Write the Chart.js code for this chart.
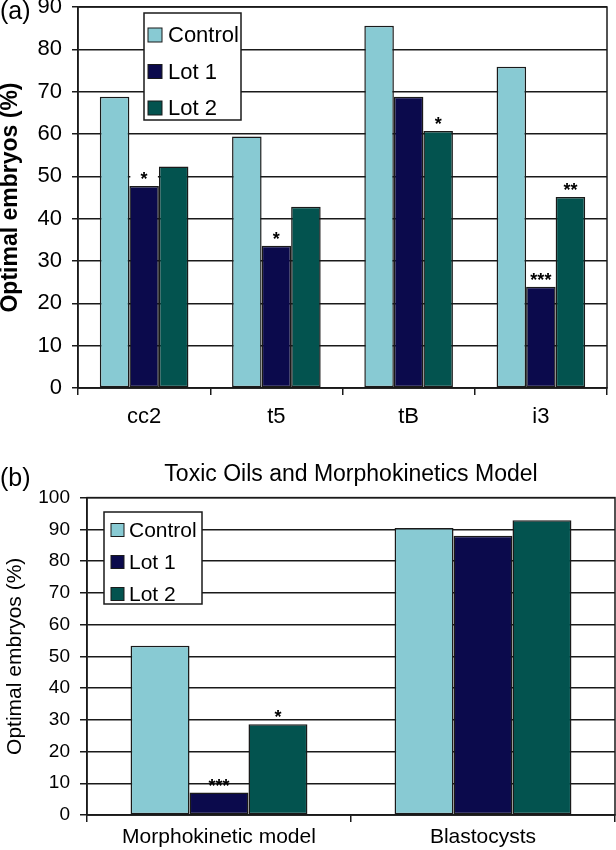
<!DOCTYPE html>
<html>
<head>
<meta charset="utf-8">
<script src="https://cdn.jsdelivr.net/npm/chart.js@4/dist/chart.umd.min.js"></script>
<style>
  html, body { margin: 0; padding: 0; background: #fff; }
  #wrap { position: relative; width: 616px; height: 850px; }
  .box { position: absolute; left: 0; width: 616px; }
  .tag { position: absolute; left: 0; font: 25px "Liberation Sans", Arial, sans-serif; line-height: 25px; color: #000; }
</style>
</head>
<body>
<div id="wrap">
  <div class="box" style="top:0;height:440px"><canvas id="chartA"></canvas></div>
  <div class="box" style="top:440px;height:410px"><canvas id="chartB"></canvas></div>
  <div class="tag" style="top:-2px">(a)</div>
  <div class="tag" style="top:465px">(b)</div>
</div>
<script>
// data
var seriesNames = ["Control", "Lot 1", "Lot 2"];
var seriesColors = ["#88cad3", "#0b0a4c", "#03534f"];

var categoriesA = ["cc2", "t5", "tB", "i3"];
var controlA = [68.8, 59.4, 85.6, 75.9];
var lot1A = [47.7, 33.6, 68.8, 23.9];
var lot2A = [52.3, 42.8, 60.7, 45.1];
var lot1MarksA = ["*", "*", "", "***"];
var lot2MarksA = ["", "", "*", "**"];
var maxA = 90;

var categoriesB = ["Morphokinetic model", "Blastocysts"];
var controlB = [53.3, 90.4];
var lot1B = [7.1, 88.0];
var lot2B = [28.6, 92.9];
var lot1MarksB = ["***", ""];
var lot2MarksB = ["*", ""];
var maxB = 100;

var titleB = "Toxic Oils and Morphokinetics Model";
var yTitle = "Optimal embryos (%)";

var REG = "'Liberation Sans', Arial, sans-serif";
var LINE = "#1a1a1a";

Chart.defaults.color = "#000";

// frame round the plot area (right and top edges like the original)
var framePlugin = {
  id: "frame",
  afterDraw: function (chart) {
    var a = chart.chartArea, ctx = chart.ctx;
    ctx.save();
    ctx.strokeStyle = LINE;
    ctx.lineWidth = 1.5;
    ctx.strokeRect(a.left, a.top, a.right - a.left, a.bottom - a.top);
    ctx.restore();
  }
};

// significance stars above the bars
var starsPlugin = {
  id: "stars",
  afterDatasetsDraw: function (chart, args, o) {
    var ctx = chart.ctx;
    ctx.save();
    ctx.font = "bold " + o.size + "px " + REG;
    ctx.textAlign = "center";
    ctx.textBaseline = "alphabetic";
    o.marks.forEach(function (marks, di) {
      if (!marks) return;
      var meta = chart.getDatasetMeta(di);
      marks.forEach(function (m, j) {
        if (!m) return;
        var bar = meta.data[j];
        var cy = bar.y - o.gap;
        if (o.whiteBox) {
          ctx.fillStyle = "#fff";
          ctx.fillRect(bar.x - bar.width / 2 + 1, bar.y - 18, bar.width - 2, 17);
        }
        ctx.fillStyle = "#000";
        ctx.fillText(m, bar.x, cy + o.size * 0.57);
      });
    });
    ctx.restore();
  }
};

// boxed vertical legend inside the plot
var boxLegend = {
  id: "boxLegend",
  afterDatasetsDraw: function (chart, args, o) {
    var ctx = chart.ctx;
    ctx.save();
    ctx.fillStyle = "#fff";
    ctx.fillRect(o.x, o.y, o.w, o.h);
    ctx.strokeStyle = LINE;
    ctx.lineWidth = 1.5;
    ctx.strokeRect(o.x, o.y, o.w, o.h);
    ctx.font = o.font;
    ctx.textAlign = "left";
    ctx.textBaseline = "middle";
    chart.data.datasets.forEach(function (ds, i) {
      var cy = o.y + o.firstRow + i * o.rowGap;
      ctx.fillStyle = ds.backgroundColor;
      ctx.fillRect(o.x + o.swatchX, cy - o.swatch / 2, o.swatch, o.swatch);
      ctx.lineWidth = 1;
      ctx.strokeRect(o.x + o.swatchX, cy - o.swatch / 2, o.swatch, o.swatch);
      ctx.fillStyle = "#000";
      ctx.fillText(ds.label, o.x + o.textX, cy + 1);
    });
    ctx.restore();
  }
};

function makeDatasets(values) {
  return values.map(function (v, i) {
    return {
      label: seriesNames[i],
      data: v,
      backgroundColor: seriesColors[i],
      borderColor: LINE,
      borderWidth: 1.5,
      borderSkipped: false,
      categoryPercentage: 0.67,
      barPercentage: 1.0
    };
  });
}

function makeOptions(cfg) {
  return {
    responsive: true,
    maintainAspectRatio: false,
    animation: false,
    layout: { padding: cfg.padding },
    plugins: {
      legend: { display: false },
      tooltip: { enabled: false },
      title: cfg.title,
      stars: cfg.stars,
      boxLegend: cfg.legend
    },
    scales: {
      x: {
        offset: true,
        grid: { offset: true, drawOnChartArea: false, drawTicks: true, tickLength: 7, color: LINE, lineWidth: 1.5 },
        border: { display: true, color: LINE, width: 1.5 },
        ticks: { font: cfg.xFont, padding: cfg.xPad, maxRotation: 0, autoSkip: false, color: "#000" },
        afterFit: function (s) { s.height = cfg.xHeight; s.paddingLeft = 0; s.paddingRight = 0; }
      },
      y: {
        min: 0,
        max: cfg.max,
        ticks: { stepSize: 10, font: cfg.yFont, padding: 10, color: "#000" },
        grid: { color: LINE, lineWidth: 1.5, tickLength: cfg.yTick },
        border: { display: true, color: LINE, width: 1.5 },
        title: { display: true, text: yTitle, font: cfg.yTitleFont, padding: cfg.yTitlePad, color: "#000" },
        afterFit: function (s) { s.width = cfg.yWidth; s.paddingTop = 0; s.paddingBottom = 0; }
      }
    }
  };
}

var ctxA = document.getElementById("chartA");
new Chart(ctxA, {
  type: "bar",
  data: { labels: categoriesA, datasets: makeDatasets([controlA, lot1A, lot2A]) },
  options: makeOptions({
    padding: { top: 7, right: 9, bottom: 0, left: 0 },
    max: maxA,
    xHeight: 52,
    xPad: 9,
    xFont: { family: REG, size: 22 },
    yFont: { family: REG, size: 22 },
    yTick: 6,
    yWidth: 78,
    yTitleFont: { family: REG, size: 23, weight: "bold", lineHeight: 1 },
    yTitlePad: { top: -1, bottom: 0 },
    title: { display: false },
    stars: { marks: [null, lot1MarksA, lot2MarksA], size: 18, gap: 11, whiteBox: true },
    legend: { x: 144, y: 13, w: 97, h: 107, firstRow: 22, rowGap: 36.5, swatchX: 4, swatch: 14, textX: 24, font: "22px " + REG }
  }),
  plugins: [starsPlugin, boxLegend, framePlugin]
});

var ctxB = document.getElementById("chartB");
new Chart(ctxB, {
  type: "bar",
  data: { labels: categoriesB, datasets: makeDatasets([controlB, lot1B, lot2B]) },
  options: makeOptions({
    padding: { top: 0, right: 1, bottom: 0, left: 0 },
    max: maxB,
    xHeight: 35,
    xPad: 3,
    xFont: { family: REG, size: 21 },
    yFont: { family: REG, size: 19 },
    yTick: 7,
    yWidth: 87,
    yTitleFont: { family: REG, size: 21, lineHeight: 1.2 },
    yTitlePad: { top: 3, bottom: 0 },
    title: {
      display: true, text: titleB, fullSize: false, color: "#000",
      font: { family: REG, size: 23, weight: "normal", lineHeight: 1.2 },
      padding: { top: 21, bottom: 9 }
    },
    stars: { marks: [null, lot1MarksB, lot2MarksB], size: 18, gap: 11, whiteBox: false },
    legend: { x: 104, y: 72, w: 98, h: 92, firstRow: 18, rowGap: 32, swatchX: 7, swatch: 13, textX: 25, font: "21px " + REG }
  }),
  plugins: [starsPlugin, boxLegend, framePlugin]
});
</script>
</body>
</html>
